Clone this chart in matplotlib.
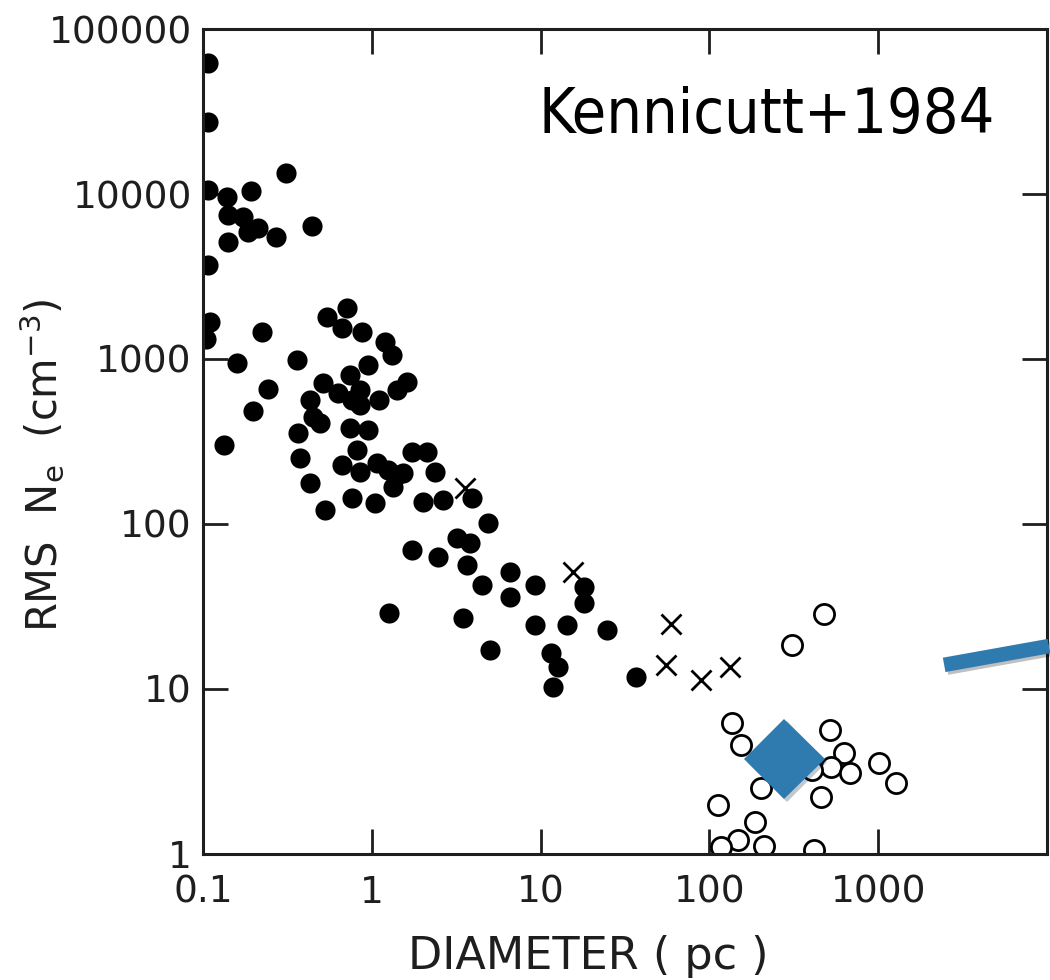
import matplotlib
matplotlib.use("Agg")
import matplotlib.pyplot as plt
import matplotlib.patheffects as pe

# HII regions: filled circles (giant/compact regions)
filled_d = [0.107, 0.107, 0.310, 0.107, 0.139, 0.192, 0.141, 0.172, 0.212, 0.141,
            0.270, 0.442, 0.185, 0.107, 0.110, 0.104, 0.223, 0.159, 0.360, 0.242,
            0.198, 0.133, 0.365, 0.375, 0.430, 0.664, 0.542, 0.711, 0.664, 0.873,
            1.19, 1.31, 0.947, 0.741, 0.513, 1.61, 1.41, 0.430, 0.629, 0.849,
            0.761, 1.11, 0.849, 0.448, 0.492, 0.741, 0.947, 0.815, 0.849, 1.07,
            1.24, 1.72, 2.12, 2.36, 1.41, 1.33, 0.761, 1.04, 0.527, 2.00,
            2.63, 1.53, 3.91, 4.86, 1.72, 2.46, 3.18, 3.80, 3.65, 4.48,
            6.56, 6.56, 9.21, 18.2, 18.2, 1.26, 3.45, 9.21, 14.3, 24.6,
            4.99, 11.6, 12.6, 11.9, 37.0]
filled_ne = [62000, 27300, 13400, 10600, 9600, 10400, 7460, 7260, 6220, 5120,
             5490, 6400, 5890, 3710, 1680, 1320, 1460, 946, 986, 658,
             484, 301, 356, 251, 177, 228, 1800, 2040, 1540, 1460,
             1270, 1060, 920, 800, 715, 726, 649, 564, 622, 649,
             564, 564, 526, 445, 409, 382, 371, 281, 207, 234,
             213, 273, 273, 207, 198, 168, 144, 134, 122, 136,
             140, 204, 144, 101, 69.6, 63, 82.3, 76.7, 56.4, 42.7,
             51.2, 36.1, 42.7, 41.5, 33.2, 28.9, 26.9, 24.4, 24.4, 22.8,
             17.2, 16.5, 13.6, 10.3, 11.8]

# crosses
cross_d = [3.55, 15.5, 59.6, 55.7, 89.7, 133]
cross_ne = [165, 51.2, 24.8, 14.0, 11.3, 13.6]

# open circles (giant complexes)
open_d = [479, 310, 137, 155, 520, 629, 527, 683, 407, 1014,
          1278, 203, 460, 112, 187, 148, 118, 211, 418]
open_ne = [28.5, 18.5, 6.22, 4.58, 5.64, 4.09, 3.37, 3.10, 3.23, 3.56,
           2.69, 2.51, 2.22, 1.98, 1.56, 1.22, 1.10, 1.12, 1.06]

# highlighted point and pointer line
star_d, star_ne = 278, 3.77
pointer_d = [2460, 10280]
pointer_ne = [14.0, 18.2]

xticks = [0.1, 1, 10, 100, 1000]
xtick_labels = ["0.1", "1", "10", "100", "1000"]
yticks = [1, 10, 100, 1000, 10000, 100000]
ytick_labels = ["1", "10", "100", "1000", "10000", "100000"]

blue = "#2f7bb0"
ink = "#1e1e1e"

fig = plt.figure(figsize=(10.5, 9.8), dpi=100)
ax = fig.add_axes([0.1933, 0.1286, 0.8038, 0.8418])

ax.plot(filled_d, filled_ne, "o", ms=14.5, color="black", mew=0)
ax.plot(cross_d, cross_ne, "x", ms=15, color="black", mew=2.0)
ax.plot(open_d, open_ne, "o", ms=14.5, mfc="white", mec="black", mew=2.0)

ax.plot([star_d], [star_ne], "D", ms=41, color=blue, mew=0, zorder=5,
        path_effects=[pe.SimplePatchShadow(offset=(2, -2), alpha=0.25),
                      pe.Normal()])
ax.plot(pointer_d, pointer_ne, "-", lw=10.5, color=blue,
        solid_capstyle="butt", clip_on=False, zorder=5,
        path_effects=[pe.SimpleLineShadow(offset=(2, -2), alpha=0.25),
                      pe.Normal()])

ax.set_xscale("log")
ax.set_yscale("log")
ax.set_xlim(0.1, 10000)
ax.set_ylim(1, 100000)
ax.set_xticks(xticks)
ax.set_xticklabels(xtick_labels)
ax.set_yticks(yticks)
ax.set_yticklabels(ytick_labels)
ax.minorticks_off()

ax.tick_params(which="major", direction="in", length=18, width=2,
               top=True, right=True, labelsize=27, color=ink,
               labelcolor=ink)
ax.tick_params(axis="x", pad=15)
ax.tick_params(axis="y", pad=8)
for spine in ax.spines.values():
    spine.set_linewidth(2.2)
    spine.set_color(ink)

ax.set_xlabel("DIAMETER ( pc )", fontsize=32, color=ink)
ax.xaxis.set_label_coords(0.456, -0.098)
ax.set_ylabel(r"RMS  N$_{\rm e}$  (cm$^{-3}$)", fontsize=30, color=ink)
ax.yaxis.set_label_coords(-0.162, 0.4715)

ax.text(0.398, 0.874, "Kennicutt+1984", transform=ax.transAxes,
        fontsize=45, family="DejaVu Sans", fontstretch="condensed",
        va="baseline", ha="left", color="black")

fig.savefig("out.png", dpi=100)
